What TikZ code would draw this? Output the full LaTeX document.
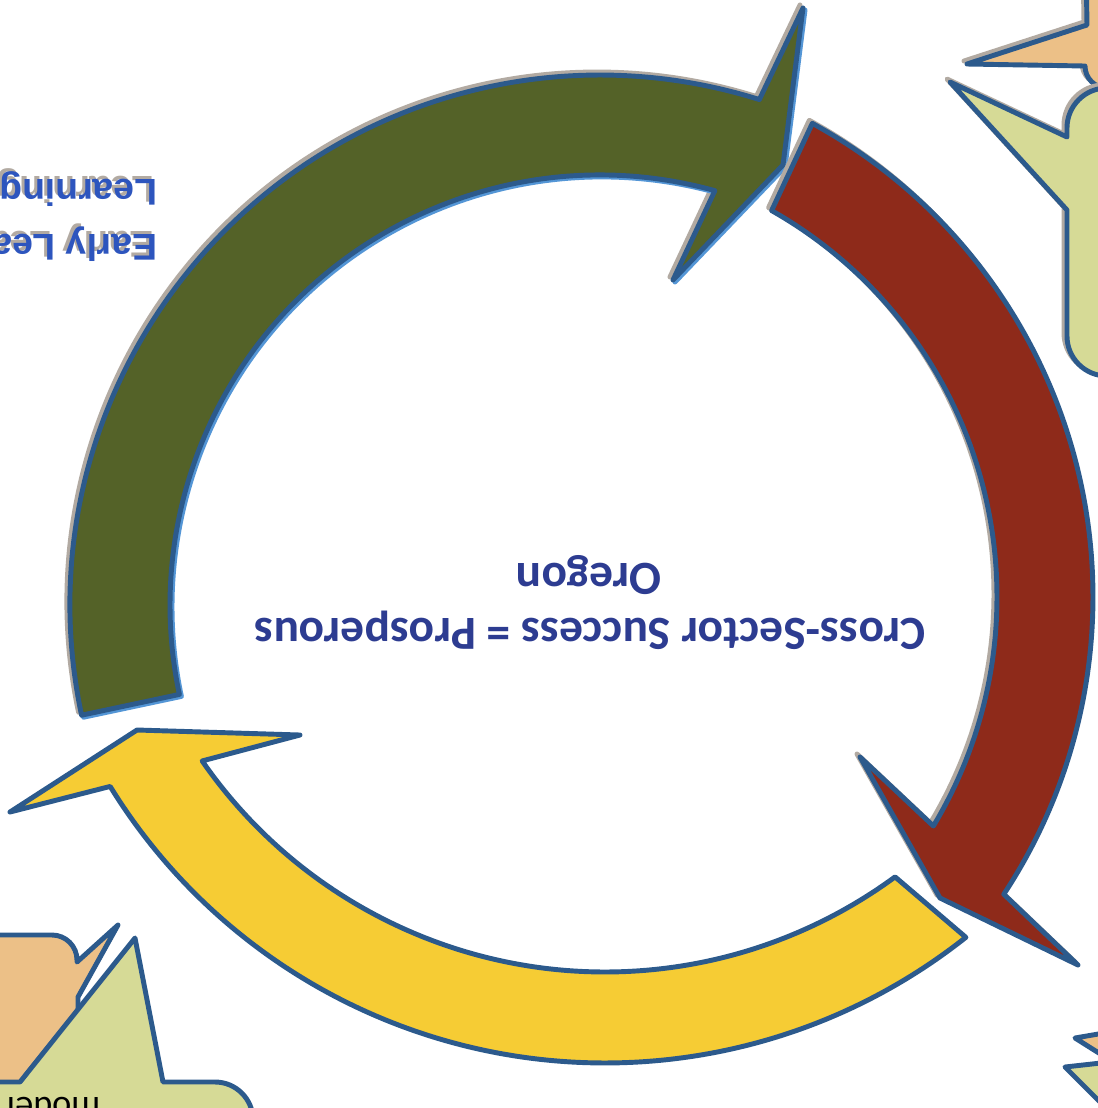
\documentclass[tikz,border=0pt]{standalone}
\usepackage{fontspec}
\setmainfont{Carlito}
\newfontfamily\labelfont{Liberation Sans}
\definecolor{rim}{RGB}{44,90,140}
\definecolor{rimglow}{RGB}{84,150,214}
\definecolor{dropgrey}{RGB}{178,170,162}
\definecolor{bandgreen}{RGB}{84,98,40}
\definecolor{bandred}{RGB}{142,42,26}
\definecolor{bandyellow}{RGB}{246,204,52}
\definecolor{bubbleorange}{RGB}{236,192,135}
\definecolor{bubblegreen}{RGB}{214,218,150}
\definecolor{inkblue}{RGB}{45,85,190}
\definecolor{titleblue}{RGB}{45,60,145}
% the three bands of the cycle
\newcommand{\greenband}{([shift={(600,-605)}]192:530) arc[start angle=192, end angle=72.5, radius=530]
    -- (803,-8) -- (783,-165) -- (673,-280)
    -- ([shift={(600,-605)}]74.5:430) arc[start angle=74.5, end angle=192, radius=430] -- cycle}
\newcommand{\redband}{([shift={(553,-597)}]61.3:540) arc[start angle=61.3, end angle=-33.4, radius=540]
    -- (1078,-965) -- (940,-898) -- (860,-757)
    -- ([shift={(553,-597)}]-31.05:444) arc[start angle=-31.05, end angle=60.5, radius=444] -- cycle}
\newcommand{\yellowband}{([shift={(605,-482)}]-51.6:581) arc[start angle=-51.6, end angle=-148.4, radius=581]
    -- (10,-812) -- (137,-730) -- (300,-735)
    -- ([shift={(605,-482)}]-145.3:490) arc[start angle=-145.3, end angle=-53.7, radius=490] -- cycle}
% the two callouts at the top right
\newcommand{\orangetop}{(1400,100) -- (1085,100) -- (1087,-25) -- (967,-64) -- (1085,-66)
    arc[start angle=180, end angle=270, radius=22] -- (1400,-88) -- cycle}
\newcommand{\greentop}{(1400,-88) -- (1107,-88) arc[start angle=90, end angle=180, radius=40]
    -- (1067,-137) -- (950,-82) -- (1067,-210) -- (1067,-336)
    arc[start angle=180, end angle=270, radius=40] -- (1400,-376) -- cycle}
\begin{document}
\begin{tikzpicture}[x=0.01cm, y=0.01cm,
    rimline/.style={draw=rim, line width=1.4pt, line join=round},
    glowline/.style={draw=rimglow, line width=1.4pt, line join=round},
    dropline/.style={draw=dropgrey, fill=dropgrey, line width=1.4pt, line join=round},
    upside/.style={rotate=180, inner sep=0pt},
    labeltext/.style={upside, anchor=base west, font=\labelfont\bfseries\fontsize{10.6}{13}\selectfont}]
    % 1. Page
    \useasboundingbox (0,0) rectangle (1098,-1108);
    \fill[white] (0,0) rectangle (1098,-1108);
    \clip (0,0) rectangle (1098,-1108);

    % 2. Callouts cut by the edges
    \draw[dropline, shift={(-3,3)}] \orangetop;
    \draw[rimline, fill=bubbleorange] \orangetop;
    \draw[dropline, shift={(-3,3)}] \greentop;
    \draw[rimline, fill=bubblegreen] \greentop;
    \draw[rimline, fill=bubbleorange] (-100,-935) -- (52,-935) arc[start angle=90, end angle=0, radius=25]
        -- (77,-962) -- (118,-925) -- (78,-997) -- (78,-1200) -- (-100,-1200) -- cycle;
    \draw[rimline, fill=bubblegreen] (-100,-1082) -- (20,-1082) -- (135,-938) -- (163,-1082) -- (215,-1082)
        arc[start angle=90, end angle=0, radius=38] -- (253,-1200) -- (-100,-1200) -- cycle;
    \draw[rimline, fill=bubbleorange] (1110,-1032) -- (1075,-1038) -- (1110,-1060) -- cycle;
    \draw[rimline, fill=bubblegreen] (1110,-1062) -- (1065,-1067) -- (1110,-1112) -- cycle;

    % 3. Cycle arrows
    \draw[dropline, shift={(-3,3)}] \greenband;
    \draw[glowline, shift={(2,-2)}] \greenband;
    \draw[rimline, fill=bandgreen] \greenband;
    \draw[dropline, shift={(-3,3)}] \redband;
    \draw[rimline, fill=bandred] \redband;
    \draw[rimline, fill=bandyellow] \yellowband;

    % 4. Texts (printed upside down)
    \node[upside, anchor=base, text=titleblue, font=\bfseries\fontsize{13.5}{16}\selectfont] (slogan) at (590,-618) {Cross-Sector Success = Prosperous};
    \node[upside, anchor=base, text=titleblue, font=\bfseries\fontsize{13.5}{16}\selectfont] (state) at (589,-563) {Oregon};
    \node[labeltext, text=dropgrey] (earlyshade) at (155,-231) {Early Lea};
    \node[labeltext, text=inkblue] (early) at (158,-234) {Early Lea};
    \node[labeltext, text=dropgrey] (learnshade) at (155,-176) {Learning};
    \node[labeltext, text=inkblue] (learn) at (158,-179) {Learning};
    \node[upside, anchor=base west, font=\fontsize{10.3}{12}\selectfont] (model) at (101,-1097) {model};
\end{tikzpicture}
\end{document}
